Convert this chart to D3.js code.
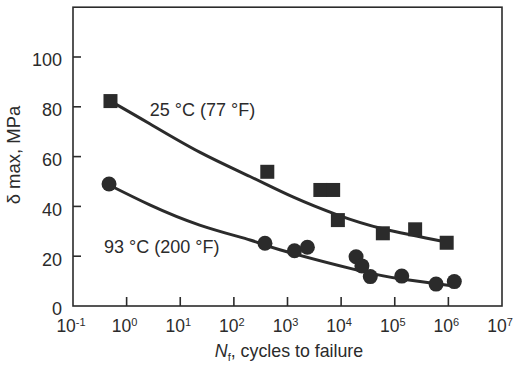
<!DOCTYPE html>
<html>
<head>
<meta charset="utf-8">
<script src="https://cdn.jsdelivr.net/npm/d3@7"></script>
<style>
    body { margin: 0; background: #fff; }
    svg { display: block; }
    text { font-family: "Liberation Sans", Arial, sans-serif; fill: #2b2b2b; }
    text.narrow { font-family: "Liberation Sans Narrow", "Arial Narrow", "Liberation Sans", sans-serif; }
</style>
</head>
<body>
<div id="chart"></div>
<script>
// 軸刻度
const decades = [0, 1, 2, 3, 4, 5, 6];
const decadeLabels = [-1, 0, 1, 2, 3, 4, 5, 6, 7];
const yTicks = [20, 40, 60, 80, 100];
const yLabels = [0, 20, 40, 60, 80, 100];

// 25 °C 資料點 (方塊)
const sqCycles = [0.5, 420, 4100, 7100, 8700, 60000, 240000, 930000];
const sqStress = [82.3, 53.9, 46.6, 46.6, 34.5, 29.2, 30.8, 25.4];

// 93 °C 資料點 (圓點)
const ciCycles = [0.47, 380, 1350, 2350, 19000, 24400, 35000, 135000, 590000, 1290000];
const ciStress = [49, 25.2, 22.2, 23.6, 19.8, 16.1, 11.8, 12.0, 8.8, 9.8];

// 擬合曲線
const fit25Cycles = [0.5, 2.7, 23, 200, 1260, 8500, 60000, 950000];
const fit25Stress = [82.3, 73.2, 61.8, 52.0, 43.8, 36.6, 31.0, 25.6];
const fit93Cycles = [0.47, 2.7, 23, 200, 720, 20000, 145000, 1450000];
const fit93Stress = [48.6, 40.6, 32.5, 26.5, 22.6, 14.4, 10.7, 7.8];

// 曲線標籤
const labels = [
    { text: "25 °C (77 °F)", cycles: 2.7, stress: 76.3 },
    { text: "93 °C (200 °F)", cycles: 0.38, stress: 21.3 }
];

const W = 515, H = 365;
const ink = "#2b2b2b";

const svg = d3.select("#chart").append("svg")
    .attr("width", W)
    .attr("height", H);

const x = d3.scaleLog().domain([1e-1, 1e7]).range([73, 502]);
const y = d3.scaleLinear().domain([0, 120]).range([306, 7.2]);

// 外框
svg.append("rect")
    .attr("x", x(1e-1))
    .attr("y", y(120))
    .attr("width", x(1e7) - x(1e-1))
    .attr("height", y(0) - y(120))
    .attr("fill", "none")
    .attr("stroke", ink)
    .attr("stroke-width", 1.6);

// Y 軸 (刻度朝內)
svg.append("g")
    .selectAll("line")
    .data(yTicks)
    .enter().append("line")
    .attr("x1", x(1e-1))
    .attr("x2", x(1e-1) + 8)
    .attr("y1", d => y(d))
    .attr("y2", d => y(d))
    .attr("stroke", ink)
    .attr("stroke-width", 1.6);

svg.append("g")
    .selectAll("text")
    .data(yLabels)
    .enter().append("text")
    .attr("class", "narrow")
    .attr("x", x(1e-1) - 11)
    .attr("y", d => y(d) + 3)
    .attr("dy", "0.36em")
    .attr("text-anchor", "end")
    .style("font-size", "18px")
    .text(d => d);

// X 軸 (刻度朝內)
svg.append("g")
    .selectAll("line")
    .data(decades)
    .enter().append("line")
    .attr("x1", d => x(Math.pow(10, d)))
    .attr("x2", d => x(Math.pow(10, d)))
    .attr("y1", y(0))
    .attr("y2", y(0) - 9)
    .attr("stroke", ink)
    .attr("stroke-width", 1.6);

const xl = svg.append("g")
    .selectAll("text")
    .data(decadeLabels)
    .enter().append("text")
    .attr("class", "narrow")
    .attr("x", d => x(Math.pow(10, d)) - 2)
    .attr("y", 332)
    .attr("text-anchor", "middle")
    .style("font-size", "17.5px");
xl.append("tspan").text("10");
xl.append("tspan")
    .attr("dy", -6)
    .style("font-size", "11px")
    .text(d => d < 0 ? "-1" : d);

// 軸標題
const xt = svg.append("text")
    .attr("x", 289)
    .attr("y", 357)
    .attr("text-anchor", "middle")
    .style("font-size", "17.8px");
xt.append("tspan").style("font-style", "italic").text("N");
xt.append("tspan").attr("dy", 4).style("font-size", "11px").text("f");
xt.append("tspan").attr("dy", -4).text(", cycles to failure");

svg.append("text")
    .attr("transform", "translate(20,155) rotate(-90)")
    .attr("text-anchor", "middle")
    .style("font-size", "18.5px")
    .text("δ max, MPa");

// 擬合曲線
const line = d3.line()
    .x(d => x(d[0]))
    .y(d => y(d[1]))
    .curve(d3.curveNatural);

svg.append("path")
    .datum(d3.zip(fit25Cycles, fit25Stress))
    .attr("d", line)
    .attr("fill", "none")
    .attr("stroke", ink)
    .attr("stroke-width", 3);

svg.append("path")
    .datum(d3.zip(fit93Cycles, fit93Stress))
    .attr("d", line)
    .attr("fill", "none")
    .attr("stroke", ink)
    .attr("stroke-width", 3);

// 資料點
const sq = 14;
svg.append("g")
    .selectAll("rect")
    .data(d3.zip(sqCycles, sqStress))
    .enter().append("rect")
    .attr("x", d => x(d[0]) - sq / 2)
    .attr("y", d => y(d[1]) - sq / 2)
    .attr("width", sq)
    .attr("height", sq)
    .attr("fill", ink);

svg.append("g")
    .selectAll("circle")
    .data(d3.zip(ciCycles, ciStress))
    .enter().append("circle")
    .attr("cx", d => x(d[0]))
    .attr("cy", d => y(d[1]))
    .attr("r", 7.5)
    .attr("fill", ink);

// 曲線標籤
svg.append("g")
    .selectAll("text")
    .data(labels)
    .enter().append("text")
    .attr("x", d => x(d.cycles))
    .attr("y", d => y(d.stress))
    .style("font-size", "18px")
    .text(d => d.text);
</script>
</body>
</html>
